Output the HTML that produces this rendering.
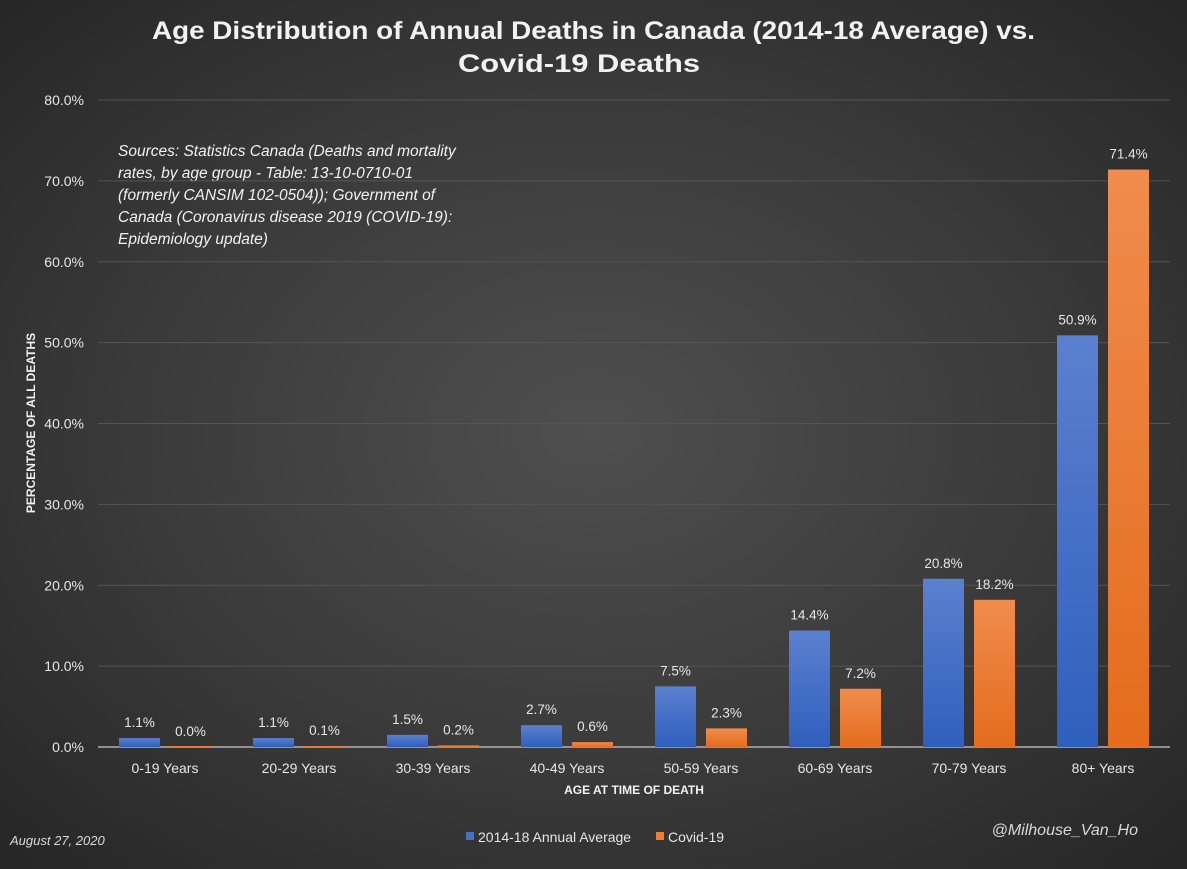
<!DOCTYPE html>
<html><head><meta charset="utf-8"><style>
html,body{margin:0;padding:0}
body{width:1187px;height:864px;overflow:hidden;background:radial-gradient(ellipse at 50% 50%,#4f4f4f 0%,#3a3a3a 55%,#262626 100%);font-family:"Liberation Sans",sans-serif}
</style></head><body>
<svg id="chart" width="1187" height="864" xmlns="http://www.w3.org/2000/svg">
<defs>
<linearGradient id="gb" x1="0" y1="0" x2="0" y2="1"><stop offset="0" stop-color="#5b80cf"/><stop offset="1" stop-color="#2f5fbd"/></linearGradient>
<linearGradient id="go" x1="0" y1="0" x2="0" y2="1"><stop offset="0" stop-color="#f08c4e"/><stop offset="1" stop-color="#e46c1c"/></linearGradient>
</defs>
<text x="152" y="39" textLength="883" lengthAdjust="spacingAndGlyphs" fill="#f2f2f2" font-size="25" font-weight="bold">Age Distribution of Annual Deaths in Canada (2014-18 Average) vs.</text>
<text x="458" y="72" textLength="242" lengthAdjust="spacingAndGlyphs" fill="#f2f2f2" font-size="25" font-weight="bold">Covid-19 Deaths</text>
<g fill="#f2f2f2" font-size="15.5" font-style="italic">
<text x="118" y="156">Sources: Statistics Canada (Deaths and mortality</text>
<text x="118" y="178">rates, by age group - Table: 13-10-0710-01</text>
<text x="118" y="200">(formerly CANSIM 102-0504)); Government of</text>
<text x="118" y="222">Canada (Coronavirus disease 2019 (COVID-19):</text>
<text x="118" y="244">Epidemiology update)</text>
</g>
<g id="grid"></g><g id="bars"></g><g id="labels"></g>
<text transform="translate(35,423) rotate(-90)" text-anchor="middle" fill="#f2f2f2" font-size="12" font-weight="bold">PERCENTAGE OF ALL DEATHS</text>
<text x="634" y="794" text-anchor="middle" fill="#f2f2f2" font-size="12" font-weight="bold">AGE AT TIME OF DEATH</text>
<g font-size="14" fill="#e6e6e6">
<rect x="466" y="832" width="8" height="8" fill="#4472c4"/>
<text x="478" y="842">2014-18 Annual Average</text>
<rect x="656" y="832" width="8" height="8" fill="#ed7d31"/>
<text x="668" y="842">Covid-19</text>
</g>
<text x="10" y="845" fill="#d9d9d9" font-size="13" font-style="italic">August 27, 2020</text>
<text x="1138" y="835" text-anchor="end" fill="#d9d9d9" font-size="16" font-style="italic">@Milhouse_Van_Ho</text>
</svg>
<script>
const categories=["0-19 Years","20-29 Years","30-39 Years","40-49 Years","50-59 Years","60-69 Years","70-79 Years","80+ Years"];
const averageValues=[1.1,1.1,1.5,2.7,7.5,14.4,20.8,50.9];
const covidValues=[0.0,0.1,0.2,0.6,2.3,7.2,18.2,71.4];
const yTicks=[0,10,20,30,40,50,60,70,80];
const NS="http://www.w3.org/2000/svg";
const x0=98,x1=1170,y0=747,yTop=100,yMax=80;
const bw=(x1-x0)/categories.length;
function y(v){return y0-(v/yMax)*(y0-yTop);}
function cx(i){return x0+bw*(i+0.5);}
function mk(tag,attrs,parent){const e=document.createElementNS(NS,tag);for(const k in attrs)e.setAttribute(k,attrs[k]);parent.appendChild(e);return e;}
const grid=document.getElementById('grid'),bars=document.getElementById('bars'),labels=document.getElementById('labels');
yTicks.forEach(t=>{
 if(t>0){const l=mk('line',{x1:x0,x2:x1,y1:y(t),y2:y(t),stroke:'#555555','stroke-width':1},grid);
 
 }
 const tx=mk('text',{x:84,y:y(t)+5,'text-anchor':'end',fill:'#e6e6e6','font-size':14},grid);
 tx.textContent=t.toFixed(1)+'%';
 
 
});
const ax=mk('line',{x1:x0,x2:x1,y1:y0,y2:y0,stroke:'#b0b0b0','stroke-width':1.5},grid);


const w=41,gap=10;
categories.forEach((c,i)=>{
 const c0=cx(i);
 [[averageValues[i],c0-gap/2-w,'url(#gb)','average'],[covidValues[i],c0+gap/2,'url(#go)','covid']].forEach(([v,bx,f,s])=>{
  const h=Math.max(y0-y(v),1);
  const r=mk('rect',{x:bx,y:y0-h,width:w,height:h,fill:f},bars);
  
  
  const t=mk('text',{x:bx+w/2,y:y(v)-11,'text-anchor':'middle',fill:'#e6e6e6','font-size':13.5},labels);
  t.textContent=v.toFixed(1)+'%';
  
  
 });
 const t=mk('text',{x:c0,y:773,'text-anchor':'middle',fill:'#e6e6e6','font-size':14},labels);
 t.textContent=c;
 
 
});
</script>
</body></html>
